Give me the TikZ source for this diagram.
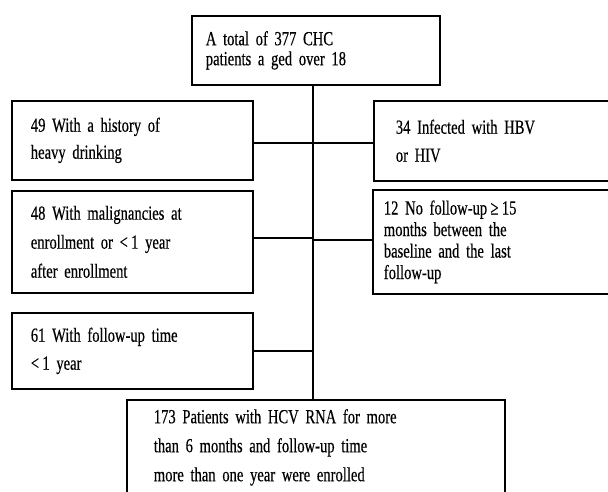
\documentclass[tikz,border=0pt]{standalone}
\usepackage{fontspec}
\setmainfont{Liberation Serif}[FakeStretch=0.73,FakeBold=0.4]
\newcommand{\boxfont}[1]{\fontsize{20}{#1}\selectfont\spaceskip=3.4pt plus 1pt minus 0.5pt\relax}
\begin{document}
\begin{tikzpicture}[x=1pt,y=-1pt,
  boxstyle/.style={draw=black,line width=1.7pt,rectangle,anchor=north west,align=left,inner ysep=0pt},
  conn/.style={draw=black,line width=1.4pt}]
\useasboundingbox (0,0) rectangle (608,491);
\clip (0,0) rectangle (608,491);
% boxes
\node[boxstyle,inner xsep=14pt,text width=220pt,minimum height=69pt,
  font=\boxfont{20}] (top) at (191,15)
  {A total of 377 CHC\\patients a ged over 18};
\node[boxstyle,inner xsep=19pt,text width=203pt,minimum height=79pt,
  font=\boxfont{27}] (b1) at (11,100)
  {49 With a history of\\heavy drinking};
\node[boxstyle,inner xsep=22pt,text width=223pt,minimum height=80pt,
  font=\boxfont{28}] (b2) at (373,100)
  {34 Infected with HBV\\or HIV};
\node[boxstyle,inner xsep=19pt,text width=203pt,minimum height=102pt,
  font=\boxfont{29}] (b3) at (11,190)
  {48 With malignancies at\\enrollment or <\,1 year\\after enrollment};
\node[boxstyle,inner xsep=11pt,text width=246pt,minimum height=104pt,
  font=\boxfont{21.5}] (b4) at (372,189)
  {12 No follow-up\,≥\,15\\months between the\\baseline and the last\\follow-up};
\node[boxstyle,inner xsep=19pt,text width=203pt,minimum height=76pt,
  font=\boxfont{28}] (b5) at (11,312)
  {61 With follow-up time\\<\,1 year};
\node[boxstyle,inner xsep=27pt,text width=324pt,minimum height=95pt,
  font=\boxfont{29}] (bot) at (126,399)
  {173 Patients with HCV RNA for more\\than 6 months and follow-up time\\more than one year were enrolled};
% trunk
\coordinate (trunk) at (313,0);
\draw[conn] (top.south -| trunk) -- (bot.north -| trunk);
\draw[conn] ([yshift=-2.5pt]b1.east) -- ([yshift=-2.5pt]b1.east -| trunk);
\draw[conn] ([yshift=-2pt]trunk |- b2.west) -- ([yshift=-2pt]b2.west);
\draw[conn] ([yshift=4pt]b3.east) -- ([yshift=4pt]b3.east -| trunk);
\draw[conn] ([yshift=2pt]trunk |- b4.west) -- ([yshift=2pt]b4.west);
\draw[conn] (b5.east) -- (b5.east -| trunk);
\end{tikzpicture}
\end{document}
